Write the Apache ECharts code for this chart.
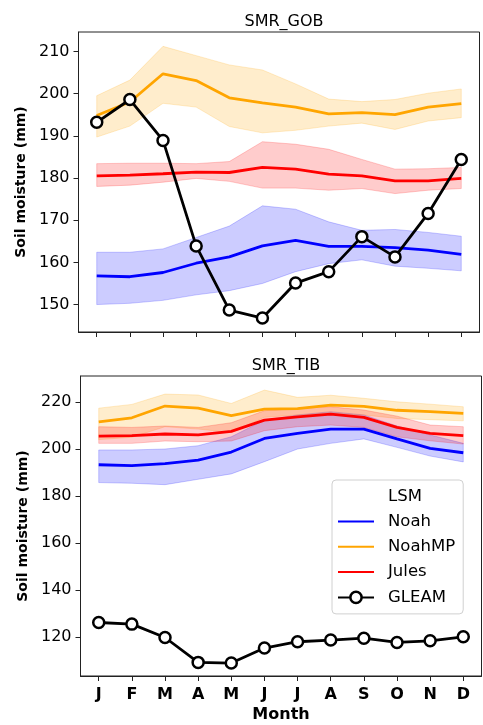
<!DOCTYPE html>
<html>
<head>
<meta charset="utf-8">
<script src="https://cdn.jsdelivr.net/npm/echarts@6/dist/echarts.min.js"></script>
<style>
html,body{margin:0;padding:0;background:#fff;}
#chart{width:483px;height:725px;}
</style>
</head>
<body>
<div id="chart"></div>
<script>
const months = ['J','F','M','A','M','J','J','A','S','O','N','D'];
const monthIdx = [0,1,2,3,4,5,6,7,8,9,10,11];
const gobTicks = [150,160,170,180,190,200,210];
const tibTicks = [120,140,160,180,200,220];

// SMR_GOB
const gobNoah    = [156.8,156.6,157.6,159.8,161.3,163.9,165.2,163.8,163.8,163.5,162.9,161.9];
const gobNoahLo  = [150.0,150.3,151.0,152.3,153.3,155.0,157.8,159.7,160.6,159.1,158.6,158.0];
const gobNoahHi  = [162.4,162.4,163.2,165.9,168.6,173.4,172.6,169.6,167.6,167.8,167.1,166.2];
const gobNoahMP   = [194.8,198.0,204.7,203.1,199.0,197.8,196.8,195.2,195.5,195.0,196.8,197.6];
const gobNoahMPLo = [189.7,192.3,197.7,196.8,192.2,190.7,191.3,192.3,193.0,191.5,193.5,194.3];
const gobNoahMPHi = [199.5,203.2,211.2,209.0,206.8,205.6,202.3,198.7,198.1,198.6,200.1,201.1];
const gobJules   = [180.5,180.7,181.0,181.4,181.3,182.5,182.1,180.9,180.5,179.3,179.3,179.9];
const gobJulesLo = [178.0,178.3,179.0,179.9,179.2,177.6,177.6,177.1,177.5,176.3,177.1,177.5];
const gobJulesHi = [183.4,183.5,183.5,183.4,183.9,188.6,188.0,186.8,184.4,182.1,182.2,182.5];
const gobGleam   = [193.2,198.6,188.9,163.9,148.7,146.8,155.1,157.8,166.1,161.3,171.6,184.4];

// SMR_TIB
const tibNoah    = [193.3,192.9,193.8,195.3,198.7,204.5,206.7,208.5,208.5,204.3,200.3,198.4];
const tibNoahLo  = [185.7,185.4,184.8,187.1,189.4,194.6,200.0,202.4,204.3,200.7,197.0,194.5];
const tibNoahHi  = [199.6,199.6,200.0,201.4,205.2,212.3,214.5,215.9,214.5,209.8,206.0,202.4];
const tibNoahMP   = [211.6,213.3,218.3,217.4,214.2,217.0,217.2,218.7,218.2,216.5,215.9,215.2];
const tibNoahMPLo = [204.0,205.0,209.5,208.5,207.0,213.5,214.5,215.0,214.5,213.0,212.5,212.0];
const tibNoahMPHi = [217.4,219.0,223.4,223.0,219.4,225.1,222.0,222.9,221.6,220.1,219.1,218.0];
const tibJules   = [205.5,205.7,206.4,206.0,207.5,212.3,213.7,214.9,213.5,209.2,206.7,205.7];
const tibJulesLo = [202.4,202.4,203.4,203.1,203.4,207.8,209.5,210.2,209.2,205.2,203.5,202.1];
const tibJulesHi = [209.5,209.2,209.8,209.2,211.2,216.3,217.3,218.0,216.6,214.0,210.2,209.5];
const tibGleam   = [126.1,125.4,119.7,109.1,108.8,115.2,117.9,118.6,119.4,117.6,118.3,120.0];

const FONT = 'DejaVu Sans';
const COLORS = {Noah:'#0000ff', NoahMP:'#ffa500', Jules:'#ff0000'};
const BAND = {Noah:'rgba(0,0,255,0.2)', NoahMP:'rgba(255,165,0,0.2)', Jules:'rgba(255,0,0,0.2)'};

function pts(arr){ return arr.map((v,i)=>[monthIdx[i], v]); }

function bandSeries(name, lo, hi, gi){
  return {
    type:'custom', name:name+'_band_'+gi, xAxisIndex:gi, yAxisIndex:gi, silent:true, z:1,
    clip:true,
    data: lo.map((v,i)=>[monthIdx[i], v, hi[i]]),
    encode:{x:0, y:[1,2]},
    renderItem:function(params, api){
      if (params.dataIndex !== 0) return null;
      const poly = [];
      for (let i=0;i<hi.length;i++) poly.push(api.coord([monthIdx[i], hi[i]]));
      for (let i=lo.length-1;i>=0;i--) poly.push(api.coord([monthIdx[i], lo[i]]));
      return {type:'polygon', shape:{points:poly},
        style:{fill:BAND[name], stroke:BAND[name], lineWidth:1}};
    }
  };
}
function mainLine(name, arr, gi){
  return {type:'line', name:name, xAxisIndex:gi, yAxisIndex:gi, data:pts(arr),
    symbol:'none', lineStyle:{color:COLORS[name], width:2.8}, itemStyle:{color:COLORS[name]}, z:3};
}
function gleam(arr, gi){
  return {type:'line', name:'GLEAM', xAxisIndex:gi, yAxisIndex:gi, data:pts(arr),
    symbol:'circle', symbolSize:11, showAllSymbol:true,
    lineStyle:{color:'#000', width:2.8},
    itemStyle:{color:'#fff', borderColor:'#000', borderWidth:2.5}, z:5};
}

const series = [];
[[0,[gobNoah,gobNoahLo,gobNoahHi],[gobNoahMP,gobNoahMPLo,gobNoahMPHi],[gobJules,gobJulesLo,gobJulesHi],gobGleam],
 [1,[tibNoah,tibNoahLo,tibNoahHi],[tibNoahMP,tibNoahMPLo,tibNoahMPHi],[tibJules,tibJulesLo,tibJulesHi],tibGleam]]
.forEach(([gi,n,nm,j,g])=>{
  series.push(bandSeries('Noah', n[1], n[2], gi));
  series.push(mainLine('Noah', n[0], gi));
  series.push(bandSeries('NoahMP', nm[1], nm[2], gi));
  series.push(mainLine('NoahMP', nm[0], gi));
  series.push(bandSeries('Jules', j[1], j[2], gi));
  series.push(mainLine('Jules', j[0], gi));
  series.push(gleam(g, gi));
});

function xAxis(gi, showLabels){
  return {type:'value', gridIndex:gi, min:-0.55, max:11.55,
    splitLine:{show:false},
    axisLine:{show:true, onZero:false, lineStyle:{color:'#222', width:1}},
    axisTick:{show:true, customValues:monthIdx, length:5, inside:false, lineStyle:{color:'#222', width:1}},
    axisLabel:{show:showLabels, customValues:monthIdx, formatter:v=>months[Math.round(v)], margin:11,
      fontFamily:FONT, fontSize:16, fontWeight:'bold', color:'#000'},
    name: showLabels ? 'Month' : '', nameLocation:'middle', nameGap:31,
    nameTextStyle:{fontFamily:FONT, fontSize:16, fontWeight:'bold', color:'#000'}
  };
}
function yAxis(gi, min, max, ticks){
  return {type:'value', gridIndex:gi, min:min, max:max,
    splitLine:{show:false},
    axisLine:{show:true, onZero:false, lineStyle:{color:'#222', width:1}},
    axisTick:{show:true, customValues:ticks, length:5, inside:false, lineStyle:{color:'#222', width:1}},
    axisLabel:{customValues:ticks, margin:9, fontFamily:FONT, fontSize:16, color:'#000'},
    name:'Soil moisture (mm)', nameLocation:'middle', nameGap:50,
    nameTextStyle:{fontFamily:FONT, fontSize:14, fontWeight:'bold', color:'#000'}
  };
}

const option = {
  animation:false,
  backgroundColor:'#fff',
  title:[
    {text:'SMR_GOB', left:279, top:9, textAlign:'center', textStyle:{fontFamily:FONT, fontSize:16, fontWeight:'normal', color:'#000'}},
    {text:'SMR_TIB', left:281, top:353, textAlign:'center', textStyle:{fontFamily:FONT, fontSize:16, fontWeight:'normal', color:'#000'}}
  ],
  grid:[
    {left:78.5, top:32, width:401, height:300, show:true, borderColor:'#222', borderWidth:1, backgroundColor:'transparent'},
    {left:80.5, top:376, width:401, height:300, show:true, borderColor:'#222', borderWidth:1, backgroundColor:'transparent'}
  ],
  xAxis:[xAxis(0,false), xAxis(1,true)],
  yAxis:[yAxis(0,143.5,214.6,gobTicks), yAxis(1,103.3,231.1,tibTicks)],
  legend:{
    data:[
      {name:'Noah', itemStyle:{opacity:0}},
      {name:'NoahMP', itemStyle:{opacity:0}},
      {name:'Jules', itemStyle:{opacity:0}},
      {name:'GLEAM', itemStyle:{borderWidth:2.5, color:'#fff', borderColor:'#000'}}
    ],
    orient:'vertical', left:332, top:480,
    padding:[33,8,8,5],
    itemWidth:36, itemHeight:14, itemGap:8.3,
    borderColor:'#d0d0d0', borderWidth:1, borderRadius:4,
    backgroundColor:'rgba(255,255,255,0.8)',
    selectedMode:false,
    textStyle:{fontFamily:FONT, fontSize:16.5, color:'#000', lineHeight:14, padding:[0,0,0,9]}
  },
  graphic:[
    {type:'text', left:388, top:488, z:100,
     style:{text:'LSM', fontFamily:FONT, fontSize:16.5, fill:'#000'}}
  ],
  series:series
};

const chart = echarts.init(document.getElementById('chart'), null, {renderer:'canvas'});
chart.setOption(option);
</script>
</body>
</html>
